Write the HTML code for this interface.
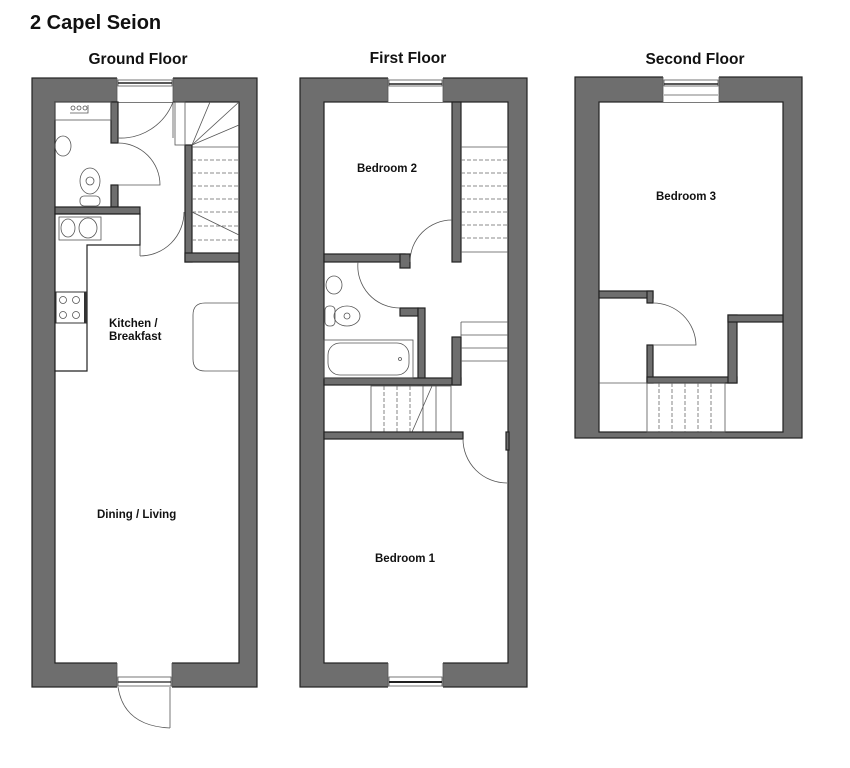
<!DOCTYPE html>
<html><head><meta charset="utf-8"><style>
html,body{margin:0;padding:0;background:#fff;}
svg{display:block;}
text{font-family:"Liberation Sans",Arial,sans-serif;font-weight:bold;fill:#111;}
</style></head><body>
<svg width="850" height="768" viewBox="0 0 850 768" xmlns="http://www.w3.org/2000/svg">
<defs>
<style>
.w{fill:#6e6e6e;stroke:#222;stroke-width:1.2}
.r{fill:#fff;stroke:#222;stroke-width:1.2}
.l{fill:none;stroke:#555;stroke-width:0.8}
.d{fill:none;stroke:#666;stroke-width:0.8;stroke-dasharray:4 2}
.win{fill:#fff;stroke:#555;stroke-width:0.8}
</style>
</defs>
<text x="30" y="29" font-size="20">2 Capel Seion</text>
<text x="138" y="64" font-size="15.5" text-anchor="middle">Ground Floor</text>
<text x="408" y="63" font-size="15.5" text-anchor="middle">First Floor</text>
<text x="695" y="64" font-size="15.5" text-anchor="middle">Second Floor</text>

<!-- GROUND FLOOR -->
<rect class="w" x="32" y="78" width="225" height="609"/>
<rect class="r" x="55" y="102" width="184" height="561"/>
<rect x="117" y="77" width="56" height="25" fill="#fff"/>
<line class="l" x1="117" y1="78" x2="117" y2="102"/><line class="l" x1="173" y1="78" x2="173" y2="102"/>
<rect class="win" x="118" y="80" width="54" height="6"/>
<line x1="118" y1="83" x2="172" y2="83" stroke="#222" stroke-width="1.5"/>
<rect x="117" y="662" width="55" height="26" fill="#fff"/>
<line class="l" x1="117" y1="663" x2="117" y2="687"/><line class="l" x1="172" y1="663" x2="172" y2="687"/>
<rect class="win" x="118" y="677" width="53" height="9"/>
<line x1="118" y1="682" x2="171" y2="682" stroke="#222" stroke-width="1.2"/>
<line class="l" x1="170" y1="687" x2="170" y2="728"/>
<path class="l" d="M118 687 Q124 726 170 728"/>
<rect class="w" x="111" y="102" width="7" height="41"/>
<rect class="w" x="111" y="185" width="7" height="22"/>
<rect class="w" x="55" y="207" width="85" height="7"/>
<path class="l" d="M118 143 A42 42 0 0 1 160 185 L118 185"/>
<path class="l" d="M118 138 A56 56 0 0 0 173 102"/>
<line class="l" x1="173" y1="102" x2="173" y2="138"/>
<path class="l" d="M140 256 A44 44 0 0 0 184 212"/>
<line class="l" x1="140" y1="214" x2="140" y2="256"/>
<rect class="l" x="55" y="102" width="56" height="18"/>
<circle class="l" cx="73" cy="108" r="2"/><circle class="l" cx="79" cy="108" r="2"/><circle class="l" cx="85" cy="108" r="2"/>
<path class="l" d="M70 113 h18 v-8"/>
<ellipse class="l" cx="63" cy="146" rx="8" ry="10"/>
<ellipse class="l" cx="90" cy="181" rx="10" ry="13"/>
<ellipse class="l" cx="90" cy="181" rx="4" ry="4"/>
<rect class="l" x="80" y="196" width="20" height="10" rx="4"/>
<rect class="w" x="185" y="145" width="7" height="117"/>
<rect class="w" x="185" y="253" width="54" height="9"/>
<rect class="l" x="175" y="102" width="10" height="43"/>
<line class="l" x1="192" y1="145" x2="239" y2="102"/>
<line class="l" x1="192" y1="145" x2="210" y2="102"/>
<line class="l" x1="192" y1="145" x2="239" y2="125"/>
<line class="l" x1="192" y1="147" x2="239" y2="147"/>
<line class="d" x1="192" y1="160" x2="239" y2="160"/>
<line class="d" x1="192" y1="173" x2="239" y2="173"/>
<line class="d" x1="192" y1="186" x2="239" y2="186"/>
<line class="d" x1="192" y1="199" x2="239" y2="199"/>
<line class="d" x1="192" y1="212" x2="239" y2="212"/>
<line class="l" x1="192" y1="212" x2="239" y2="235"/>
<line class="d" x1="192" y1="226" x2="239" y2="226"/>
<line class="d" x1="192" y1="240" x2="239" y2="240"/>
<path class="r" d="M55 214 H140 V245 H87 V371 H55 Z"/>
<rect class="l" x="59" y="217" width="42" height="23" fill="none" stroke="#333"/>
<ellipse class="l" cx="68" cy="228" rx="7" ry="9"/>
<ellipse class="l" cx="88" cy="228" rx="9" ry="10"/>
<rect x="56" y="292" width="30" height="31" fill="none" stroke="#333" stroke-width="1"/>
<circle class="l" cx="63" cy="300" r="3.5"/><circle class="l" cx="76" cy="300" r="3.5"/>
<circle class="l" cx="63" cy="315" r="3.5"/><circle class="l" cx="76" cy="315" r="3.5"/>
<rect x="84" y="292" width="3" height="31" fill="#333"/>
<path class="l" d="M239 303 H205 Q193 303 193 315 V359 Q193 371 205 371 H239"/>
<text x="109" y="327" font-size="11.5">Kitchen /</text>
<text x="109" y="340" font-size="11.5">Breakfast</text>
<text x="97" y="518" font-size="11.5">Dining / Living</text>

<!-- FIRST FLOOR -->
<rect class="w" x="300" y="78" width="227" height="609"/>
<rect class="r" x="324" y="102" width="184" height="561"/>
<rect x="388" y="77" width="55" height="25" fill="#fff"/>
<line class="l" x1="388" y1="78" x2="388" y2="102"/><line class="l" x1="443" y1="78" x2="443" y2="102"/>
<rect class="win" x="389" y="80" width="53" height="6"/>
<line x1="389" y1="84" x2="442" y2="84" stroke="#222" stroke-width="1.5"/>
<rect x="388" y="662" width="55" height="26" fill="#fff"/>
<line class="l" x1="388" y1="663" x2="388" y2="687"/><line class="l" x1="443" y1="663" x2="443" y2="687"/>
<rect class="win" x="389" y="677" width="53" height="9"/>
<line x1="389" y1="682" x2="442" y2="682" stroke="#222" stroke-width="2"/>
<rect class="w" x="452" y="102" width="9" height="160"/>
<rect class="w" x="324" y="254" width="81" height="8"/>
<rect class="w" x="400" y="254" width="10" height="14"/>
<path class="l" d="M410 262 A42 42 0 0 1 452 220"/>
<line class="l" x1="461" y1="147" x2="508" y2="147"/>
<line class="d" x1="461" y1="160" x2="508" y2="160"/>
<line class="d" x1="461" y1="173" x2="508" y2="173"/>
<line class="d" x1="461" y1="186" x2="508" y2="186"/>
<line class="d" x1="461" y1="199" x2="508" y2="199"/>
<line class="d" x1="461" y1="212" x2="508" y2="212"/>
<line class="d" x1="461" y1="225" x2="508" y2="225"/>
<line class="d" x1="461" y1="238" x2="508" y2="238"/>
<line class="l" x1="461" y1="252" x2="508" y2="252"/>
<rect class="w" x="400" y="308" width="18" height="8"/>
<rect class="w" x="418" y="308" width="7" height="77"/>
<rect class="w" x="324" y="378" width="137" height="7"/>
<rect class="w" x="452" y="337" width="9" height="48"/>
<path class="l" d="M358 262 A42 42 0 0 0 400 308"/>
<ellipse class="l" cx="334" cy="285" rx="8" ry="9"/>
<ellipse class="l" cx="347" cy="316" rx="13" ry="10"/>
<circle class="l" cx="347" cy="316" r="3"/>
<rect class="l" x="325" y="306" width="10" height="20" rx="4"/>
<rect class="l" x="324" y="340" width="89" height="38"/>
<rect class="l" x="328" y="343" width="81" height="32" rx="12"/>
<circle class="l" cx="400" cy="359" r="1.5"/>
<line class="l" x1="461" y1="322" x2="508" y2="322"/>
<line class="l" x1="461" y1="322" x2="461" y2="337"/>
<line class="l" x1="461" y1="335" x2="508" y2="335"/>
<line class="l" x1="461" y1="348" x2="508" y2="348"/>
<line class="l" x1="461" y1="361" x2="508" y2="361"/>
<rect class="l" x="371" y="386" width="80" height="46"/>
<line class="d" x1="384" y1="386" x2="384" y2="432"/>
<line class="d" x1="397" y1="386" x2="397" y2="432"/>
<line class="d" x1="410" y1="386" x2="410" y2="432"/>
<line class="l" x1="423" y1="386" x2="423" y2="432"/>
<line class="l" x1="436" y1="386" x2="436" y2="432"/>
<line class="l" x1="412" y1="432" x2="432" y2="386"/>
<rect class="w" x="324" y="432" width="139" height="7"/>
<rect class="w" x="506" y="432" width="3" height="18"/>
<path class="l" d="M463 439 A44 44 0 0 0 507 483"/>
<text x="357" y="172" font-size="11.5">Bedroom 2</text>
<text x="375" y="562" font-size="11.5">Bedroom 1</text>

<!-- SECOND FLOOR -->
<rect class="w" x="575" y="77" width="227" height="361"/>
<rect class="r" x="599" y="102" width="184" height="330"/>
<rect x="663" y="76" width="56" height="26" fill="#fff"/>
<line class="l" x1="663" y1="77" x2="663" y2="102"/><line class="l" x1="719" y1="77" x2="719" y2="102"/>
<rect class="win" x="664" y="80" width="54" height="6"/>
<line x1="664" y1="84" x2="718" y2="84" stroke="#222" stroke-width="1.5"/>
<line class="l" x1="664" y1="95" x2="718" y2="95"/>
<rect class="w" x="599" y="291" width="54" height="7"/>
<rect class="w" x="647" y="291" width="6" height="12"/>
<rect class="w" x="647" y="345" width="6" height="38"/>
<rect class="w" x="647" y="377" width="90" height="6"/>
<rect class="w" x="728" y="315" width="9" height="68"/>
<rect class="w" x="728" y="315" width="55" height="7"/>
<path class="l" d="M653 303 A43 43 0 0 1 696 345 L653 345"/>
<line class="l" x1="599" y1="383" x2="647" y2="383"/>
<rect class="l" x="647" y="383" width="78" height="49"/>
<line class="d" x1="659" y1="383" x2="659" y2="432"/>
<line class="d" x1="672" y1="383" x2="672" y2="432"/>
<line class="d" x1="685" y1="383" x2="685" y2="432"/>
<line class="d" x1="698" y1="383" x2="698" y2="432"/>
<line class="d" x1="711" y1="383" x2="711" y2="432"/>
<text x="656" y="200" font-size="11.5">Bedroom 3</text>
</svg>
</body></html>
